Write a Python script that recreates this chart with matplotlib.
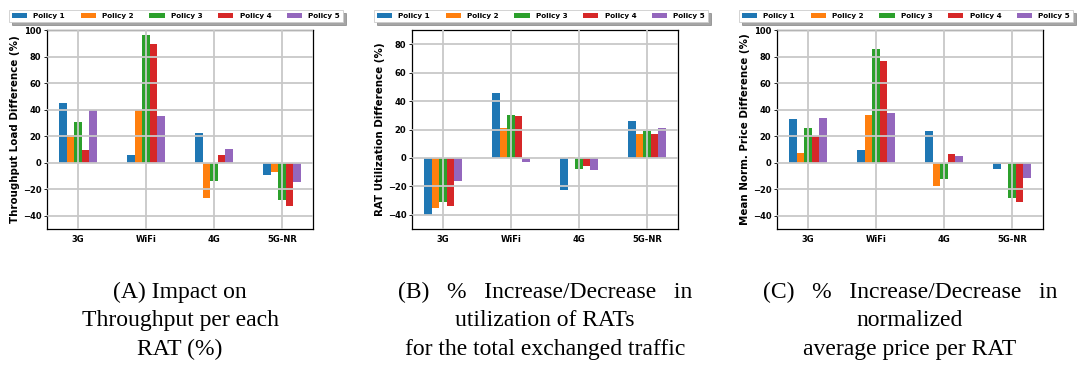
import matplotlib
matplotlib.use("Agg")
import matplotlib.pyplot as plt
import numpy as np

# categories and policies
rats = ['3G', 'WiFi', '4G', '5G-NR']
policies = ['Policy 1', 'Policy 2', 'Policy 3', 'Policy 4', 'Policy 5']
colors = ['#1f77b4', '#ff7f0e', '#2ca02c', '#d62728', '#9467bd']

# (A) throughput load difference, rows = policies, cols = RATs
throughput = [[45, 6, 22.5, -9],
              [21, 40, -26.5, -7],
              [30.5, 96.5, -13.5, -28],
              [9.5, 89.5, 6, -33],
              [40, 35, 10.5, -14.5]]

# (B) RAT utilization difference
utilization = [[-40, 45.5, -22.5, 26],
               [-35, 21, 1, 17],
               [-31, 30, -8, 19],
               [-33.5, 29.5, -6, 17],
               [-16.5, -3, -8.5, 21]]

# (C) mean normalized price difference
price = [[33, 9.5, 24, -5],
         [7, 36, -17.5, -1],
         [26, 86, -12.5, -26.5],
         [20, 77, 6.5, -30],
         [33.5, 37.5, 5, -11.5]]

ylabels = ['Throughput Load Difference (%)',
           'RAT Utilization Difference (%)',
           'Mean Norm. Price Difference (%)']
ylims = [(-50, 100), (-50, 90), (-50, 100)]
yticks = [np.arange(-40, 101, 20), np.arange(-40, 81, 20), np.arange(-40, 101, 20)]
captions = ['(A) Impact on\nThroughput per each\nRAT (%)',
            '(B)   %   Increase/Decrease   in\nutilization of RATs\nfor the total exchanged traffic',
            '(C)   %   Increase/Decrease   in\nnormalized\naverage price per RAT']

fig = plt.figure(figsize=(10.82, 3.69), dpi=100)
W, H = 1082, 369
lefts = [47, 412, 777]
width_px = 266
top, bottom = 30, 229

x = np.arange(len(rats))
bw = 0.11
datasets = [throughput, utilization, price]

for k in range(3):
    ax = fig.add_axes([lefts[k] / W, 1 - bottom / H, width_px / W, (bottom - top) / H])
    for i, pol in enumerate(policies):
        ax.bar(x + (i - 2) * bw, datasets[k][i], bw, color=colors[i], label=pol, zorder=1)
    ax.set_ylim(*ylims[k])
    ax.set_yticks(yticks[k])
    ax.set_xticks(x)
    ax.set_xticklabels(rats)
    ax.grid(True, color='#c8c8c8', linewidth=1.3, zorder=3)
    ax.set_axisbelow(False)
    ax.tick_params(axis='both', labelsize=6, length=2, width=0.6, pad=2)
    ax.tick_params(axis='x', length=0, pad=4)
    for lab in ax.get_xticklabels() + ax.get_yticklabels():
        lab.set_fontweight('bold')
    ax.set_ylabel(ylabels[k], fontsize=7.4, fontweight='bold', labelpad=2)
    for sp in ax.spines.values():
        sp.set_linewidth(0.9)
    leg = ax.legend(loc='lower center', bbox_to_anchor=(0.485, 1.04), ncol=5,
                    prop={'size': 5.2, 'weight': 'bold'}, shadow=True, fancybox=False,
                    handlelength=2.1, handleheight=0.8, columnspacing=2.2,
                    borderpad=0.4, handletextpad=0.85, framealpha=1, borderaxespad=0)
    leg.get_frame().set_linewidth(0.6)
    cx = (lefts[k] + width_px / 2) / W
    fig.text(cx, 1 - 282 / H, captions[k], ha='center', va='top',
             fontsize=17, family='Liberation Serif', linespacing=1.45)

fig.savefig('out.png', dpi=100)
